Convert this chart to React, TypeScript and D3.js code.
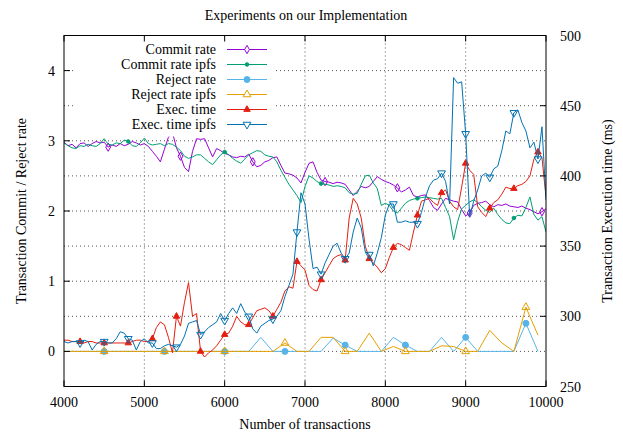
import React from 'react';
import * as d3 from 'd3';

const W = 623;
const H = 436;
const plot = { left: 64, right: 546, top: 35.5, bottom: 386.5 };

// x positions (number of transactions)
const denseX = d3.range(4000, 10001, 50);
const rejectX = d3.range(3900, 9901, 150);

const commitRate = [
  2.98, 2.93, 2.95, 2.9, 2.96, 2.97, 2.92, 2.96, 2.99, 2.97,
  2.98, 2.91, 2.94, 2.92, 2.96, 2.93, 2.95, 2.99, 2.97, 2.94,
  2.96, 2.92, 2.85, 2.78, 2.7, 2.88, 3.05, 3.12, 2.9, 2.78,
  2.62, 2.56, 2.85, 3.03, 3.02, 3.03, 2.9, 2.77, 2.89, 2.86,
  2.82, 2.8, 2.77, 2.76, 2.78, 2.77, 2.81, 2.7, 2.63, 2.65,
  2.7, 2.72, 2.76, 2.77, 2.65, 2.54, 2.53, 2.51, 2.47, 2.4,
  2.55, 2.68, 2.7, 2.55, 2.44, 2.42, 2.41, 2.39, 2.41, 2.4,
  2.38, 2.3, 2.22, 2.28, 2.35, 2.33, 2.35, 2.42, 2.49, 2.45,
  2.42, 2.4, 2.37, 2.33, 2.27, 2.3, 2.34, 2.22, 2.2, 2.22,
  2.23, 2.15, 2.05, 2.01, 2.1, 2.18, 2.16, 2.14, 2.13, 2.02,
  1.93, 1.97, 2.08, 2.11, 2.12, 2.14, 2.09, 2.06, 2.09, 2.08,
  2.1, 2.07, 2.06, 2.05, 2.07, 2.04, 2.02, 1.99, 1.96, 1.99,
  2.03,
];

const commitRateIpfs = [
  2.97, 2.93, 2.9, 2.89, 2.93, 2.92, 2.95, 2.93, 2.92, 2.96,
  3.03, 2.95, 2.94, 2.97, 2.96, 3.01, 2.99, 2.93, 2.92, 2.97,
  3.04, 2.96, 2.94, 2.95, 2.96, 2.93, 2.96, 2.95, 2.91, 2.86,
  2.78, 2.75, 2.77, 2.8, 2.8, 2.75, 2.7, 2.66, 2.73, 2.8,
  2.84, 2.8, 2.75, 2.71, 2.68, 2.74, 2.8, 2.83, 2.86, 2.85,
  2.8, 2.78, 2.77, 2.7, 2.58, 2.48, 2.38, 2.3, 2.22, 2.12,
  2.35, 2.5, 2.47, 2.42, 2.39, 2.38, 2.37, 2.35, 2.36, 2.35,
  2.33, 2.26, 2.24, 2.25, 2.38, 2.5, 2.51, 2.4, 2.32, 2.08,
  2.11, 2.08, 2.0, 1.97, 2.04, 2.11, 2.15, 2.17, 2.18, 2.19,
  2.2, 2.19, 2.18, 2.17, 2.18, 2.05, 1.92, 1.59, 1.85, 2.03,
  2.08, 2.13, 2.16, 2.12, 2.06, 2.01, 1.98, 2.04, 1.95, 1.88,
  1.83, 1.82, 1.9, 1.94, 1.93, 2.05, 2.2, 1.95, 1.87, 1.92,
  1.7,
];

const rejectRate = [
  0, 0, 0, 0, 0, 0, 0, 0, 0, 0,
  0, 0, 0, 0, 0, 0, 0, 0.2, 0, 0,
  0, 0, 0, 0.19, 0.09, 0, 0, 0, 0.2, 0.09,
  0, 0, 0.2, 0, 0.2, 0, 0, 0, 0, 0.4,
  0,
];

const rejectRateIpfs = [
  0, 0, 0, 0, 0, 0, 0, 0, 0, 0,
  0, 0, 0, 0, 0, 0, 0, 0, 0, 0.12,
  0, 0, 0.2, 0.2, 0, 0, 0.26, 0, 0.07, 0,
  0, 0, 0.08, 0.07, 0, 0, 0.3, 0.12, 0, 0.63,
  0.23,
];

// execution times in ms (right axis)
const execTime = [
  283, 283, 282, 282, 282, 281, 282, 282, 281, 281,
  281, 281, 281, 281, 281, 281, 281, 282, 283, 283,
  282, 282, 284, 292, 296, 294, 285, 274, 300, 293,
  310, 324, 300, 302, 275, 271, 274, 276, 279, 283,
  287, 288, 293, 300, 296, 294, 294, 299, 304, 305,
  306, 304, 300, 305, 310, 318, 321, 320, 339, 336,
  333, 322, 319, 318, 326, 331, 336, 341, 343, 344,
  340, 370, 384, 380, 370, 350, 341, 338, 335, 331,
  334, 342, 349, 352, 351, 349, 347, 360, 372, 382,
  383, 384, 381, 379, 388, 390, 382, 378, 376, 392,
  409, 404, 401, 378, 374, 371, 377, 381, 383, 387,
  392, 391, 391, 393, 394, 396, 400, 412, 417, 413,
  385,
];

const execTimeIpfs = [
  282, 281, 282, 282, 281, 283, 282, 276, 280, 282,
  282, 281, 281, 284, 289, 288, 284, 283, 276, 282,
  284, 281, 281, 277, 277, 279, 280, 279, 278, 280,
  286, 295, 296, 297, 287, 289, 292, 294, 296, 302,
  297, 302, 306, 302, 309, 303, 300, 291, 288, 293,
  295, 297, 298, 300, 304, 314, 322, 330, 360, 388,
  380, 355, 334, 335, 330, 338, 344, 350, 352, 345,
  341, 345, 360, 370, 363, 346, 344, 336, 345, 356,
  372, 380, 380, 367, 367, 368, 367, 367, 366, 374,
  385, 393, 397, 398, 402, 396, 380, 470, 466, 467,
  430, 371, 382, 390, 400, 402, 399, 405, 407, 418,
  432, 430, 445, 447, 438, 432, 420, 424, 412, 435,
  383,
];

const xTicks = [4000, 5000, 6000, 7000, 8000, 9000, 10000];
const yTicks = [0, 1, 2, 3, 4];
const y2Ticks = [250, 300, 350, 400, 450, 500];

const FONT = '"Liberation Serif", "DejaVu Serif", serif';

export default function App() {
  const x = d3.scaleLinear().domain([4000, 10000]).range([plot.left, plot.right]);
  const y = d3.scaleLinear().domain([-0.5, 4.5]).range([plot.bottom, plot.top]);
  const y2 = d3.scaleLinear().domain([250, 500]).range([plot.bottom, plot.top]);

  const series = [
    { label: 'Commit rate', color: '#9400d3', xs: denseX, ys: commitRate, sy: y,
      symbol: d3.symbolDiamond, size: 20, filled: false, flip: false, every: 18, offset: 11 },
    { label: 'Commit rate ipfs', color: '#009e73', xs: denseX, ys: commitRateIpfs, sy: y,
      symbol: d3.symbolCircle, size: 10, filled: true, flip: false, every: 24, offset: 16 },
    { label: 'Reject rate', color: '#56b4e9', xs: rejectX, ys: rejectRate, sy: y,
      symbol: d3.symbolCircle, size: 28, filled: true, flip: false, every: 5, offset: 4 },
    { label: 'Reject rate ipfs', color: '#e69f00', xs: rejectX, ys: rejectRateIpfs, sy: y,
      symbol: d3.symbolTriangle, size: 26, filled: false, flip: false, every: 5, offset: 4 },
    { label: 'Exec. time', color: '#e51e10', xs: denseX, ys: execTime, sy: y2,
      symbol: d3.symbolTriangle, size: 18, filled: true, flip: false, every: 6, offset: 4 },
    { label: 'Exec. time ipfs', color: '#0072b2', xs: denseX, ys: execTimeIpfs, sy: y2,
      symbol: d3.symbolTriangle, size: 26, filled: false, flip: true, every: 6, offset: 4 },
  ];

  const gridY = [...yTicks.map((t) => y(t)), ...y2Ticks.slice(1, -1).map((t) => y2(t))];
  const tickLen = 6;

  const legendX = 216;
  const legendTop = 49.5;
  const legendStep = 15;

  return (
    <svg width={W} height={H} style={{ display: 'block', position: 'absolute', left: 0, top: 0, background: '#fff' }}
      fontFamily={FONT} fontSize={14}>
      <defs>
        <clipPath id="plotClip">
          <rect x={plot.left} y={plot.top} width={plot.right - plot.left} height={plot.bottom - plot.top} />
        </clipPath>
      </defs>
      <rect x={0} y={0} width={W} height={H} fill="#fff" />

      <text x={306} y={20} textAnchor="middle" fill="#000">Experiments on our Implementation</text>

      {/* grid */}
      <g stroke="#555" strokeWidth={1} strokeDasharray="1,3">
        {xTicks.slice(1, -1).map((t) => (
          <line key={'gx' + t} x1={x(t)} x2={x(t)} y1={plot.top} y2={plot.bottom} />
        ))}
        {gridY.map((gy, i) => (
          <line key={'gy' + i} x1={plot.left} x2={plot.right} y1={gy} y2={gy} />
        ))}
      </g>

      {/* series */}
      <g clipPath="url(#plotClip)">
        {series.map((s) => {
          const pts = s.xs.map((xv, i) => [x(xv), s.sy(s.ys[i])] as [number, number]);
          const line = d3.line();
          const sym = d3.symbol().type(s.symbol).size(s.size)();
          return (
            <g key={s.label}>
              <path d={line(pts) || ''} fill="none" stroke={s.color} strokeWidth={1} strokeLinejoin="round" />
              {pts.filter((_, i) => i >= s.offset && (i - s.offset) % s.every === 0).map((p, i) => (
                <path key={i} d={sym || ''}
                  transform={`translate(${p[0]},${p[1]})${s.flip ? ' rotate(180)' : ''}`}
                  fill={s.filled ? s.color : 'none'}
                  stroke={s.color} strokeWidth={1} />
              ))}
            </g>
          );
        })}
      </g>

      {/* legend (opaque) */}
      <rect x={73} y={plot.top + 1} width={202} height={100} fill="#fff" />
      {series.map((s, i) => {
        const ly = legendTop + i * legendStep;
        const sym = d3.symbol().type(s.symbol).size(s.size)();
        return (
          <g key={'lg' + s.label}>
            <text x={legendX} y={ly + 4.5} textAnchor="end" fill="#000">{s.label}</text>
            <line x1={227} x2={267} y1={ly} y2={ly} stroke={s.color} strokeWidth={1} />
            <path d={sym || ''} transform={`translate(247,${ly})${s.flip ? ' rotate(180)' : ''}`}
              fill={s.filled ? s.color : '#fff'} stroke={s.color} strokeWidth={1} />
          </g>
        );
      })}

      {/* ticks */}
      <g stroke="#000" strokeWidth={1}>
        {xTicks.map((t) => (
          <g key={'xt' + t}>
            <line x1={x(t)} x2={x(t)} y1={plot.bottom} y2={plot.bottom - tickLen} />
            <line x1={x(t)} x2={x(t)} y1={plot.top} y2={plot.top + tickLen} />
          </g>
        ))}
        {yTicks.map((t) => (
          <line key={'yt' + t} x1={plot.left} x2={plot.left + tickLen} y1={y(t)} y2={y(t)} />
        ))}
        {y2Ticks.map((t) => (
          <line key={'y2t' + t} x1={plot.right} x2={plot.right - tickLen} y1={y2(t)} y2={y2(t)} />
        ))}
      </g>

      {/* border */}
      <rect x={plot.left} y={plot.top} width={plot.right - plot.left} height={plot.bottom - plot.top}
        fill="none" stroke="#000" strokeWidth={1} />

      {/* tick labels */}
      {xTicks.map((t) => (
        <text key={'xl' + t} x={x(t)} y={406.5} textAnchor="middle" fill="#000">{t}</text>
      ))}
      {yTicks.map((t) => (
        <text key={'yl' + t} x={55} y={y(t) + 5} textAnchor="end" fill="#000">{t}</text>
      ))}
      {y2Ticks.map((t) => (
        <text key={'y2l' + t} x={560} y={y2(t) + 5} textAnchor="start" fill="#000">{t}</text>
      ))}

      {/* axis labels */}
      <text x={305} y={429} textAnchor="middle" fill="#000">Number of transactions</text>
      <text transform={`translate(26,${(plot.top + plot.bottom) / 2}) rotate(-90)`} textAnchor="middle" fill="#000">
        Transaction Commit / Reject rate
      </text>
      <text transform={`translate(612,${(plot.top + plot.bottom) / 2}) rotate(-90)`} textAnchor="middle" fill="#000">
        Transaction Execution time (ms)
      </text>
    </svg>
  );
}
